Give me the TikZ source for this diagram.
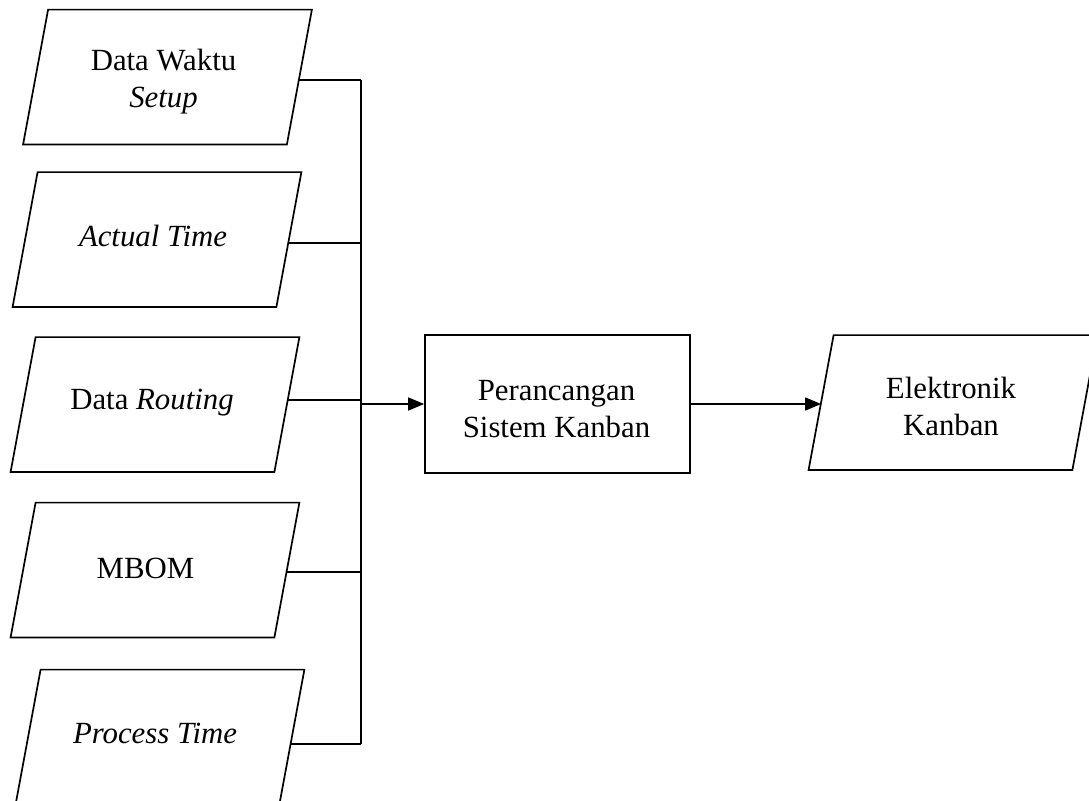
\documentclass[tikz,border=0pt]{standalone}
\usepackage{fontspec}
\setmainfont{Liberation Serif}
\usetikzlibrary{calc,arrows.meta}
\begin{document}
\begin{tikzpicture}[x=0.5pt,y=-0.5pt,
  line/.style={line width=0.85pt, black},
  txt/.style={font=\fontsize{15.4}{18.5}\selectfont, align=center, inner sep=0pt},
  body/.style={inner sep=0pt, minimum width=131.5pt, minimum height=67pt},
  proc/.style={draw, line width=0.85pt, inner sep=0pt, minimum width=132.5pt, minimum height=69pt},
  tip/.style={-{Triangle[length=8pt,width=6.5pt]}}
]
\useasboundingbox (0,0) rectangle (1089,800);
\clip (0,0) rectangle (1089,800);

% input data (parallelograms)
\node[body] (d1) at (167.5,77)  {};
\node[body] (d2) at (157,239.5) {};
\node[body] (d3) at (155,404.5) {};
\node[body] (d4) at (155,570)   {};
\node[body] (d5) at (160,737)   {};

% process and output
\node[proc] (ps)  at (557.5,404) {};
\node[body] (out) at (953,402.5) {};

\foreach \n in {d1,d2,d3,d4,d5,out}
  \draw[line] ($(\n.north west)+(12.5,0)$) -- ($(\n.north east)+(12.5,0)$)
    -- ($(\n.south east)+(-12.5,0)$) -- ($(\n.south west)+(-12.5,0)$) -- cycle;

% labels
\node[txt] (t1) at ($(d1)+(-4,5)$)    {Data Waktu\\\textit{Setup}};
\node[txt] (t2) at ($(d2)+(-4,-4)$)   {\textit{Actual Time}};
\node[txt] (t3) at ($(d3)+(-3,-2)$)   {Data \textit{Routing}};
\node[txt] (t4) at ($(d4)+(-9.5,-1.5)$) {MBOM};
\node[txt] (t5) at ($(d5)+(-5,-3.5)$) {\textit{Process Time}};
\node[txt] (t6) at ($(ps)+(-1,5.5)$)  {Perancangan\\Sistem Kanban};
\node[txt] (t7) at ($(out)+(-2,3.5)$) {Elektronik\\Kanban};

% collecting bus
\coordinate (sp) at (361,0);
\coordinate (e1) at ($(d1.east)+(-0.5,3)$);
\coordinate (e2) at ($(d2.east)+(-0.5,3.5)$);
\coordinate (e3) at ($(d3.east)+(0.8,-4.5)$);
\coordinate (e4) at ($(d4.east)+(-0.3,2)$);
\coordinate (e5) at ($(d5.east)+(-1.2,7)$);
\foreach \e in {e1,e2,e3,e4,e5}
  \draw[line] (\e) -- (\e -| sp);
\draw[line] (e1 -| sp) -- (e5 -| sp);

% flow arrows
\draw[line,tip] (ps.west -| sp) -- (ps.west);
\draw[line,tip] (ps.east) -- (ps.east -| out.west);
\end{tikzpicture}
\end{document}
